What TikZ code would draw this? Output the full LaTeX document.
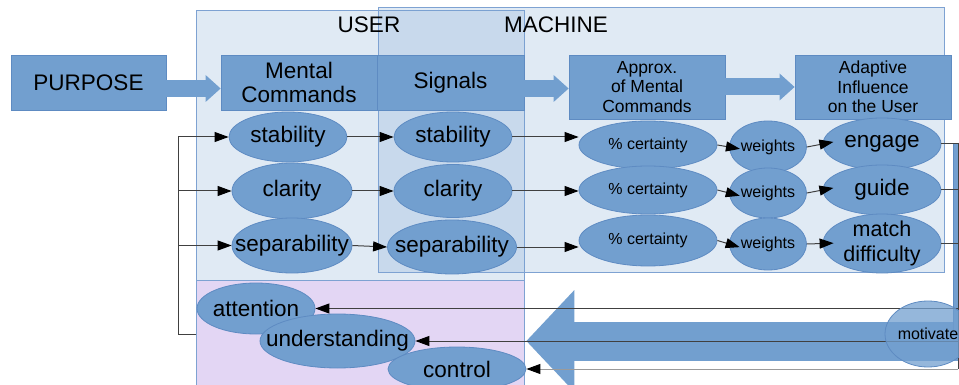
\documentclass[tikz,border=0pt]{standalone}
\usepackage{fontspec}
\setmainfont{Liberation Sans}
\usetikzlibrary{arrows.meta,shapes.geometric}
\definecolor{ink}{HTML}{000000}
\definecolor{wire}{HTML}{404040}
\definecolor{wirelight}{HTML}{9A9A9A}
\definecolor{blob}{HTML}{729FCF}
\definecolor{blobedge}{HTML}{5E8BC2}
\definecolor{zoneedge}{HTML}{7EA2D2}
\definecolor{lilac}{HTML}{E3D6F4}

\begin{document}
\begin{tikzpicture}[
    x=1pt,
    y=-1pt,
    font=\fontsize{22.5}{24}\selectfont,
    text=ink,
    link/.style={-{Triangle[length=14pt,width=10pt,color=ink]}, draw=wire, line width=1pt},
    plain/.style={draw=wire, line width=1pt},
    deep/.style={link, shorten >=-11pt},
    fat/.style={-{Triangle[length=15pt,width=27pt,line width=0pt]}, draw=blob, line width=17pt},
    huge/.style={-{Triangle[length=48pt,width=102pt,line width=0pt]}, draw=blob, line width=39pt},
    zone/.style={draw=zoneedge, fill=blob, fill opacity=0.22, line width=0.8pt},
    header/.style={draw=blobedge, fill=blob, line width=0.8pt, align=center, inner sep=0pt},
    oval/.style={ellipse, draw=blobedge, fill=blob, line width=0.8pt, align=center, inner sep=-20pt},
    small/.style={font=\fontsize{16}{18}\selectfont},
    medium/.style={font=\fontsize{17.5}{19.5}\selectfont}
]
\useasboundingbox (0,0) rectangle (959,385);

% Regions of the loop.
\draw[zone] (196,10) rectangle (524,280);
\draw[zone] (378,7) rectangle (944,272);
\draw[draw=zoneedge, fill=lilac, line width=0.8pt] (196,280) rectangle (524,392);
\node (userlabel) at (369,25) {USER};
\node (machinelabel) at (556,25) {MACHINE};

% Header row.
\node[header, minimum width=155pt, minimum height=55pt] (purpose) at (88.5,82.5) {PURPOSE};
\node[header, minimum width=156pt, minimum height=55pt] (mental) at (299,82.5) {Mental\\Commands};
\node[header, minimum width=147pt, minimum height=55pt] (signals) at (450.5,82.5) {Signals};
\node[header, medium, minimum width=156pt, minimum height=64pt] (approx) at (647,87)
    {Approx.\\of Mental\\Commands};
\node[header, medium, minimum width=156pt, minimum height=64pt] (adaptive) at (873,87)
    {Adaptive\\Influence\\on the User};

\draw[fat] ([yshift=-6pt]purpose.east) -- ([yshift=-6pt]mental.west);
\draw[fat] ([yshift=-6pt]signals.east) -- ([yshift=-6pt]signals.east -| approx.west);
\draw[fat] (approx.east) -- (adaptive.west);

% Ovals of the user side.
\node[oval, minimum width=118pt, minimum height=50pt] (stabM) at (288,137) {stability};
\node[oval, minimum width=120pt, minimum height=56pt] (clarM) at (292,191) {clarity};
\node[oval, minimum width=120pt, minimum height=55pt] (sepM) at (292,245.5) {separability};

% Signals column.
\node[oval, minimum width=118pt, minimum height=50pt] (stabS) at (453,137) {stability};
\node[oval, minimum width=118pt, minimum height=53pt] (clarS) at (453,191) {clarity};
\node[oval, minimum width=129pt, minimum height=54pt] (sepS) at (452,247) {separability};

% Machine estimate and weighting.
\node[oval, small, minimum width=138pt, minimum height=48pt] (cert1) at (648,145) {\% certainty};
\node[oval, small, minimum width=138pt, minimum height=48pt] (cert2) at (648,190) {\% certainty};
\node[oval, small, minimum width=138pt, minimum height=51pt] (cert3) at (648,240.5) {\% certainty};
\node[oval, small, minimum width=77pt, minimum height=52pt] (wgt1) at (768,147) {weights};
\node[oval, small, minimum width=77pt, minimum height=50pt] (wgt2) at (768,193) {weights};
\node[oval, small, minimum width=77pt, minimum height=52pt] (wgt3) at (768,244) {weights};

% Influence on the user.
\node[oval, minimum width=118pt, minimum height=52pt] (engage) at (882,144) {engage};
\node[oval, minimum width=118pt, minimum height=50pt] (guide) at (882,190) {guide};
\node[oval, font=\fontsize{21.5}{25}\selectfont, minimum width=118pt, minimum height=59pt]
    (match) at (882,243.5) {match\\difficulty};

% What the user brings back.
\node[oval, minimum width=118pt, minimum height=51pt] (attention) at (256,308.5) {attention};
\node[oval, minimum width=155pt, minimum height=54pt] (understanding) at (337.5,341) {understanding};
\node[oval, minimum width=138pt, minimum height=44pt] (control) at (457,369) {control};

% The big return arrow and the rail beside it.
\coordinate (railtop) at (958,143);
\draw[huge] (understanding.east -| railtop) -- (understanding.east -| control.east);
\filldraw[fill=blob, draw=blobedge, line width=0.6pt] (953,143) rectangle (958,335);

% Forward links.
\draw[link] (stabM.east) -- (stabS.west);
\draw[link] (clarM.east) -- (clarS.west);
\draw[link] (sepM.east) -- (sepS.west);
\draw[link] (stabS.east) -- (stabS.east -| cert1.west);
\draw[link] (clarS.east) -- (clarS.east -| cert2.west);
\draw[link] (sepS.east) -- (sepS.east -| cert3.west);
\draw[deep] (cert1.east) -- (wgt1.west);
\draw[deep] (cert2.east) -- (wgt2.west);
\draw[deep] (cert3.east) -- (wgt3.west);
\draw[deep] (wgt1.east) -- (engage.west);
\draw[deep] (wgt2.east) -- (guide.west);
\draw[deep] (wgt3.east) -- (match.west);

% Feedback to the user.
\draw[plain] (engage.east) -- (engage.east -| railtop);
\draw[plain] (guide.east) -- (guide.east -| railtop);
\draw[plain] (match.east) -- (match.east -| railtop);
\draw[plain] (railtop) -- (control.east -| railtop);
\draw[link] (attention.east -| railtop) -- (attention.east);
\draw[link] (understanding.east -| railtop) -- (understanding.east);
\draw[link, draw=wirelight] (control.east -| railtop) -- (control.east);

% Loop back into the mental commands.
\coordinate (loopfoot) at (196,334);
\coordinate (loopbar) at (178,137);
\draw[link] (loopfoot) -| (loopbar) -- (stabM.west);
\draw[link] (clarM.west -| loopbar) -- (clarM.west);
\draw[link] (sepM.west -| loopbar) -- (sepM.west);

\node[oval, small, fill opacity=0.75, text opacity=1, minimum width=86pt, minimum height=66pt]
    (motivate) at (928,334) {motivate};

\end{tikzpicture}
\end{document}
